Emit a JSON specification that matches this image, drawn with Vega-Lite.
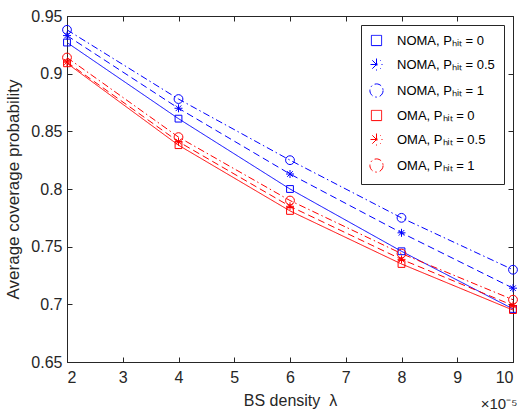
{
  "$schema": "https://vega.github.io/schema/vega-lite/v6.json",
  "width": 446,
  "height": 346,
  "autosize": {"type": "none"},
  "padding": {"left": 67, "top": 16, "right": 7, "bottom": 51},
  "background": "white",
  "title": {"text": "×10⁻⁵", "orient": "bottom", "anchor": "end", "fontSize": 15, "fontWeight": "normal", "font": "Liberation Sans", "color": "#262626", "offset": -11, "dx": -2},
  "config": {
    "view": {"stroke": "#262626", "strokeWidth": 1},
    "font": "Liberation Sans",
    "axis": {
      "domainColor": "#262626", "tickColor": "#262626", "labelColor": "#262626", "titleColor": "#262626",
      "labelFont": "Liberation Sans", "titleFont": "Liberation Sans",
      "labelFontSize": 16, "titleFontSize": 16, "titleFontWeight": "normal",
      "grid": false, "tickSize": -5, "labelPadding": 10
    }
  },
  "resolve": {"axis": {"x": "independent", "y": "independent"}},
  "data": {"values": [
    {"series": "NOMA, Pₕᵢₜ = 0", "x": 2, "y": 0.927},
    {"series": "NOMA, Pₕᵢₜ = 0", "x": 4, "y": 0.861},
    {"series": "NOMA, Pₕᵢₜ = 0", "x": 6, "y": 0.800},
    {"series": "NOMA, Pₕᵢₜ = 0", "x": 8, "y": 0.746},
    {"series": "NOMA, Pₕᵢₜ = 0", "x": 10, "y": 0.696},
    {"series": "NOMA, Pₕᵢₜ = 0.5", "x": 2, "y": 0.933},
    {"series": "NOMA, Pₕᵢₜ = 0.5", "x": 4, "y": 0.870},
    {"series": "NOMA, Pₕᵢₜ = 0.5", "x": 6, "y": 0.813},
    {"series": "NOMA, Pₕᵢₜ = 0.5", "x": 8, "y": 0.762},
    {"series": "NOMA, Pₕᵢₜ = 0.5", "x": 10, "y": 0.714},
    {"series": "NOMA, Pₕᵢₜ = 1", "x": 2, "y": 0.938},
    {"series": "NOMA, Pₕᵢₜ = 1", "x": 4, "y": 0.878},
    {"series": "NOMA, Pₕᵢₜ = 1", "x": 6, "y": 0.825},
    {"series": "NOMA, Pₕᵢₜ = 1", "x": 8, "y": 0.775},
    {"series": "NOMA, Pₕᵢₜ = 1", "x": 10, "y": 0.730},
    {"series": "OMA, Pₕᵢₜ = 0", "x": 2, "y": 0.909},
    {"series": "OMA, Pₕᵢₜ = 0", "x": 4, "y": 0.838},
    {"series": "OMA, Pₕᵢₜ = 0", "x": 6, "y": 0.781},
    {"series": "OMA, Pₕᵢₜ = 0", "x": 8, "y": 0.735},
    {"series": "OMA, Pₕᵢₜ = 0", "x": 10, "y": 0.695},
    {"series": "OMA, Pₕᵢₜ = 0.5", "x": 2, "y": 0.910},
    {"series": "OMA, Pₕᵢₜ = 0.5", "x": 4, "y": 0.841},
    {"series": "OMA, Pₕᵢₜ = 0.5", "x": 6, "y": 0.785},
    {"series": "OMA, Pₕᵢₜ = 0.5", "x": 8, "y": 0.739},
    {"series": "OMA, Pₕᵢₜ = 0.5", "x": 10, "y": 0.699},
    {"series": "OMA, Pₕᵢₜ = 1", "x": 2, "y": 0.914},
    {"series": "OMA, Pₕᵢₜ = 1", "x": 4, "y": 0.845},
    {"series": "OMA, Pₕᵢₜ = 1", "x": 6, "y": 0.790},
    {"series": "OMA, Pₕᵢₜ = 1", "x": 8, "y": 0.744},
    {"series": "OMA, Pₕᵢₜ = 1", "x": 10, "y": 0.704}
  ]},
  "layer": [
    {
      "mark": {"type": "line", "strokeWidth": 1},
      "encoding": {
        "x": {"field": "x", "type": "quantitative", "scale": {"domain": [2, 10], "nice": false},
              "axis": {"title": "BS density\u00a0 λ", "values": [2,3,4,5,6,7,8,9,10], "titlePadding": 7, "labelPadding": 12}},
        "y": {"field": "y", "type": "quantitative", "scale": {"domain": [0.65, 0.95], "nice": false, "zero": false},
              "axis": {"title": "Average coverage probability", "titleFontSize": 17, "values": [0.65,0.7,0.75,0.8,0.85,0.9,0.95], "format": "~g", "titlePadding": 8}},
        "color": {"field": "series", "type": "nominal",
          "scale": {"domain": ["NOMA, Pₕᵢₜ = 0","NOMA, Pₕᵢₜ = 0.5","NOMA, Pₕᵢₜ = 1","OMA, Pₕᵢₜ = 0","OMA, Pₕᵢₜ = 0.5","OMA, Pₕᵢₜ = 1"],
                "range": ["#0000ff","#0000ff","#0000ff","#ff0000","#ff0000","#ff0000"]},
          "legend": {
            "title": null,
            "orient": "top-right",
            "offset": 9,
            "padding": 9,
            "strokeColor": "#262626",
            "fillColor": "white",
            "labelFontSize": 13,
            "labelColor": "#000000",
            "labelOffset": 14,
            "symbolType": "stroke",
            "symbolSize": 144,
            "symbolStrokeWidth": 1,
            "rowPadding": 8
          }},
        "strokeDash": {"field": "series", "type": "nominal",
          "scale": {"domain": ["NOMA, Pₕᵢₜ = 0","NOMA, Pₕᵢₜ = 0.5","NOMA, Pₕᵢₜ = 1","OMA, Pₕᵢₜ = 0","OMA, Pₕᵢₜ = 0.5","OMA, Pₕᵢₜ = 1"],
                    "range": [[1,0],[7,4],[7,3,1.5,3],[1,0],[7,4],[7,3,1.5,3]]}}
      }
    },
    {
      "mark": {"type": "point", "filled": false, "strokeWidth": 1, "size": 64, "opacity": 1},
      "encoding": {
        "x": {"field": "x", "type": "quantitative",
              "axis": {"orient": "top", "labels": false, "title": null, "domain": false, "values": [2,3,4,5,6,7,8,9,10]}},
        "y": {"field": "y", "type": "quantitative",
              "axis": {"orient": "right", "labels": false, "title": null, "domain": false, "values": [0.65,0.7,0.75,0.8,0.85,0.9,0.95]}},
        "color": {"field": "series", "type": "nominal"},
        "shape": {"field": "series", "type": "nominal",
          "scale": {"domain": ["NOMA, Pₕᵢₜ = 0","NOMA, Pₕᵢₜ = 0.5","NOMA, Pₕᵢₜ = 1","OMA, Pₕᵢₜ = 0","OMA, Pₕᵢₜ = 0.5","OMA, Pₕᵢₜ = 1"],
                    "range": [
                      "M-0.85,-0.85H0.85V0.85H-0.85Z",
                      "M-1,0H1M0,-1V1M-0.7,-0.7L0.7,0.7M-0.7,0.7L0.7,-0.7",
                      "M1.1,0A1.1,1.1,0,1,1,-1.1,0A1.1,1.1,0,1,1,1.1,0Z",
                      "M-0.85,-0.85H0.85V0.85H-0.85Z",
                      "M-1,0H1M0,-1V1M-0.7,-0.7L0.7,0.7M-0.7,0.7L0.7,-0.7",
                      "M1.1,0A1.1,1.1,0,1,1,-1.1,0A1.1,1.1,0,1,1,1.1,0Z"
                    ]},
          "legend": null}
      }
    }
  ]
}
